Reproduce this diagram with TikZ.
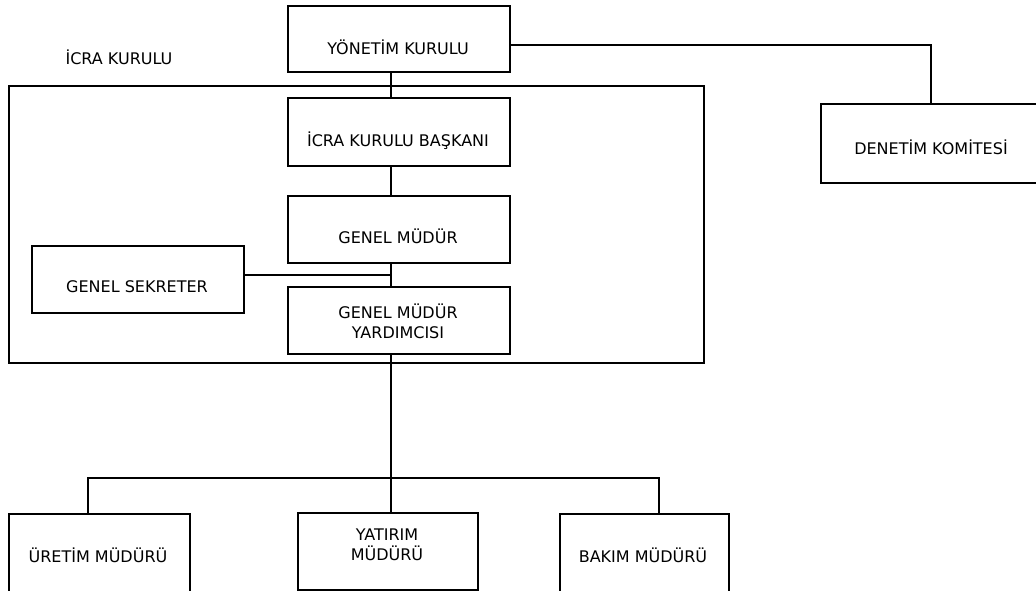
\documentclass[tikz,border=0pt]{standalone}
\usepackage{fontspec}
\setmainfont{DejaVu Sans}
\begin{document}
\begin{tikzpicture}[x=0.75pt,y=-0.75pt,
  box/.style 2 args={draw=black, line width=1.4pt, inner sep=0pt, anchor=north west,
    minimum width=#1*0.75pt, minimum height=#2*0.75pt},
  conn/.style={draw=black, line width=1.1pt},
  lbl/.style={inner sep=0pt, font=\fontsize{12pt}{15pt}\selectfont, text=black},
  lblb/.style={lbl, anchor=base},
  lblc/.style={lbl, anchor=center, align=center}]
\clip (0,0) rectangle (1036,591);
% frame
\node[box={695}{277}] (frame) at (8,85) {};
\node[lblb] (framelbl) at (119,65) {İCRA KURULU};
% boxes
\node[box={222}{66}] (yk) at (287,5) {};
\node[box={222}{68}] (ikb) at (287,97) {};
\node[box={222}{67}] (gm) at (287,195) {};
\node[box={222}{67}] (gmy) at (287,286) {};
\node[box={212}{67}] (gs) at (31,245) {};
\node[box={240}{79}] (dk) at (820,103) {};
\node[box={181}{110}] (ur) at (8,513) {};
\node[box={180}{77}] (yt) at (297,512) {};
\node[box={169}{110}] (bk) at (559,513) {};
% labels
\node[lblb] (yktx) at (398,55) {YÖNETİM KURULU};
\node[lblb] (ikbtx) at (398,147) {İCRA KURULU BAŞKANI};
\node[lblb] (gmtx) at (398,244) {GENEL MÜDÜR};
\node[lblc] (gmytx) at (398,321) {GENEL MÜDÜR\\YARDIMCISI};
\node[lblb] (gstx) at (137,293) {GENEL SEKRETER};
\node[lblb] (dktx) at (931,155) {DENETİM KOMİTESİ};
\node[lblb] (urtx) at (98,563) {ÜRETİM MÜDÜRÜ};
\node[lblc] (yttx) at (387,545) {YATIRIM\\MÜDÜRÜ};
\node[lblb] (bktx) at (643,563) {BAKIM MÜDÜRÜ};
% connectors
\coordinate (spine) at (391,0);
\coordinate (gsj) at (391,275);
\coordinate (dkj) at (931,45);
\coordinate (busL) at (88,478);
\coordinate (busR) at (659,478);
\draw[conn] (yk.south -| spine) -- (ikb.north -| spine);
\draw[conn] (ikb.south -| spine) -- (gm.north -| spine);
\draw[conn] (gm.south -| spine) -- (gmy.north -| spine);
\draw[conn] (gs.east |- gsj) -- (gsj);
\draw[conn] (yk.east |- dkj) -| (dk.north -| dkj);
\draw[conn] (gmy.south -| spine) -- (yt.north -| spine);
\draw[conn] (ur.north -| busL) |- (busR) -- (bk.north -| busR);
\end{tikzpicture}
\end{document}
